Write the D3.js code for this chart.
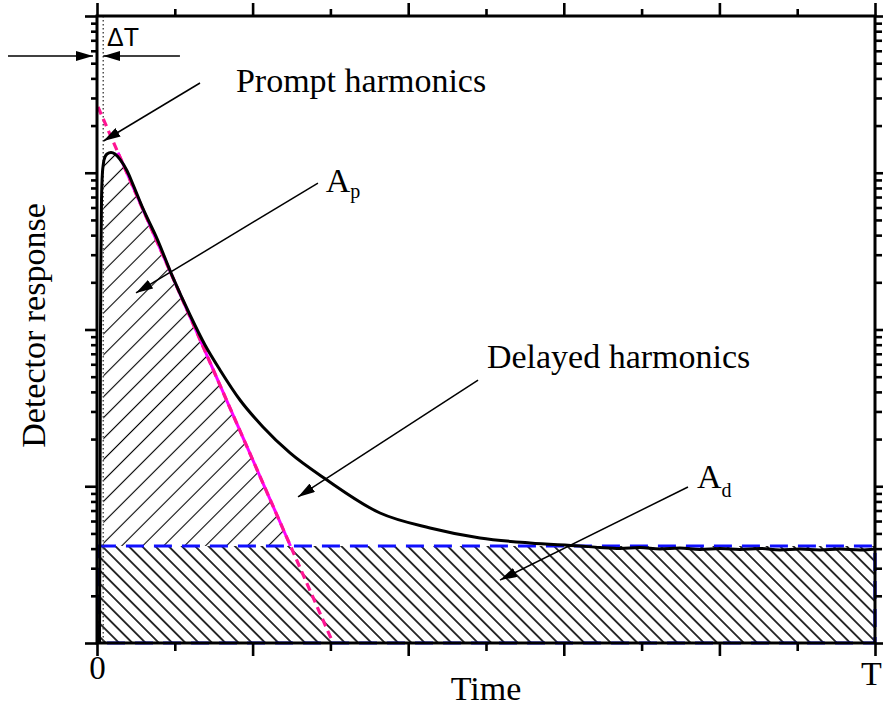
<!DOCTYPE html>
<html>
<head>
<meta charset="utf-8">
<script src="https://cdn.jsdelivr.net/npm/d3@7"></script>
<style>
  body { margin: 0; background: #fff; }
  svg { display: block; }
  text { font-family: "Liberation Serif", "Times New Roman", serif; fill: #000; }
</style>
</head>
<body>
<svg id="chart"></svg>
<script>
// Detector response (time in units of T/5, response on log scale)
var curveT = [0.016, 0.0193, 0.0225, 0.0257, 0.0289, 0.0353, 0.04, 0.045, 0.0643, 0.09, 0.1157, 0.1478,
  0.1928, 0.2314, 0.2956, 0.3856, 0.4884, 0.5977, 0.6941, 0.7905, 0.919, 1.0668, 1.2404, 1.4781,
  1.8188, 2.1401, 2.4614, 2.7828, 3.1041, 3.232, 3.361, 3.489, 3.618, 3.746, 3.875, 4.004, 4.132,
  4.261, 4.389, 4.518, 4.646, 4.775, 4.904, 5.0];
var curveV = [1, 8.17, 99.3, 321.6, 670, 1011, 1120, 1206, 1317, 1346, 1317, 1216,
  1030, 841, 590, 380, 214, 123.7, 79.6, 55.2, 35.5, 23.9, 16.3, 10.96,
  6.75, 5.42, 4.68, 4.345, 4.157, 4.068, 4.012, 4.068, 3.983, 4.04, 3.955, 4.012, 3.955,
  4.012, 3.926, 3.983, 3.926, 3.983, 3.926, 3.983];

// prompt component (straight line on the log axis)
var promptT = [0.0064, 1.517];
var promptV = [2627, 1];
var promptSolidT = [0.135, 1.2436];
var promptSolidV = [1345, 4.157];

var delayedLevel = 4.157;
var deltaT = 0.04;
var rectStartT = 0.006;

var xMajor = [0, 1, 2, 3, 4, 5];
var xMinor = [0.5, 1.5, 2.5, 3.5, 4.5];
var xLabels = ["0", "", "", "", "", "T"];
var yMajor = [1, 10, 100, 1000, 10000];

// annotation arrows: [fromT, fromV, toT, toV]
var arrowList = [
  [0.662, 3738, 0.0418, 1594],
  [1.420, 860, 0.2506, 171],
  [2.449, 47.6, 1.292, 8.54],
  [3.798, 9.89, 2.590, 2.52],
  [-0.572, 5557, -0.0257, 5557],
  [0.533, 5557, 0.0405, 5557]
];
var labelText = ["Prompt harmonics", "Delayed harmonics"];
var labelT = [0.893, 2.506];
var labelV = [3275, 57.2];

var margin = { top: 16, right: 8, bottom: 66, left: 97 },
  W = 883, H = 709,
  width = W - margin.left - margin.right,
  height = H - margin.top - margin.bottom;

var svg = d3.select("#chart").attr("width", W).attr("height", H);
var defs = svg.append("defs");

var g = svg.append("g")
  .attr("transform", "translate(" + margin.left + "," + margin.top + ")");

var x = d3.scaleLinear().domain([0, 5]).range([0, width]);
var y = d3.scaleLog().domain([1, 10000]).range([height, 0]);

// hatch patterns
var hp = defs.append("pattern").attr("id", "hatchP")
  .attr("patternUnits", "userSpaceOnUse").attr("width", 14.8).attr("height", 10)
  .attr("patternTransform", "rotate(45)");
hp.append("line").attr("x1", 7.4).attr("x2", 7.4).attr("y1", 0).attr("y2", 10)
  .attr("stroke", "#000").attr("stroke-width", 1.1);

var hd = defs.append("pattern").attr("id", "hatchD")
  .attr("patternUnits", "userSpaceOnUse").attr("width", 9.4).attr("height", 10)
  .attr("patternTransform", "rotate(-45)");
hd.append("line").attr("x1", 4.7).attr("x2", 4.7).attr("y1", 0).attr("y2", 10)
  .attr("stroke", "#000").attr("stroke-width", 1.6);

defs.append("marker").attr("id", "arrowHead")
  .attr("markerUnits", "userSpaceOnUse")
  .attr("markerWidth", 18).attr("markerHeight", 10)
  .attr("refX", 17).attr("refY", 5).attr("orient", "auto")
  .append("path").attr("d", "M0,0 L17,5 L0,10 Z").attr("fill", "#000");

var curve = curveT.map(function(t, i) { return [t, curveV[i]]; });

var line = d3.line()
  .x(function(d) { return x(d[0]); })
  .y(function(d) { return y(d[1]); });

// clip: left of the prompt line, above the delayed level
var clipPts = [[promptT[0], promptV[0]], [promptSolidT[1], delayedLevel],
  [deltaT, delayedLevel], [deltaT, promptV[0]]];
defs.append("clipPath").attr("id", "promptClip")
  .append("path").attr("d", line(clipPts) + "Z");

// A_d region
g.append("rect")
  .attr("x", x(rectStartT)).attr("y", y(delayedLevel))
  .attr("width", x(5) - x(rectStartT))
  .attr("height", y(1) - y(delayedLevel))
  .attr("fill", "url(#hatchD)");

// A_p region
var area = d3.area()
  .x(function(d) { return x(d[0]); })
  .y0(y(delayedLevel))
  .y1(function(d) { return y(d[1]); })
  .curve(d3.curveMonotoneX);
g.append("path")
  .attr("d", area(curve.filter(function(d) { return d[0] >= deltaT; })))
  .attr("fill", "url(#hatchP)")
  .attr("clip-path", "url(#promptClip)");

// blue dashed outline of A_d
g.append("rect")
  .attr("x", x(rectStartT)).attr("y", y(delayedLevel))
  .attr("width", x(5) - x(rectStartT))
  .attr("height", y(1) - y(delayedLevel))
  .attr("fill", "none")
  .attr("stroke", "#1010ff").attr("stroke-width", 3.2)
  .attr("stroke-dasharray", "18,10");

// delta T dotted marker
g.append("line")
  .attr("x1", x(deltaT)).attr("x2", x(deltaT))
  .attr("y1", 0).attr("y2", height)
  .attr("stroke", "#444").attr("stroke-width", 1.4)
  .attr("stroke-dasharray", "1.5,2.5");

// prompt line: solid part plus dashed over the whole extent
g.append("path")
  .attr("d", line(promptSolidT.map(function(t, i) { return [t, promptSolidV[i]]; })))
  .attr("fill", "none").attr("stroke", "#ff00ff").attr("stroke-width", 3);
g.append("path")
  .attr("d", line(promptT.map(function(t, i) { return [t, promptV[i]]; })))
  .attr("fill", "none").attr("stroke", "#ff1493").attr("stroke-width", 3.2)
  .attr("stroke-dasharray", "8,5");

// detector response curve
var smooth = d3.line()
  .x(function(d) { return x(d[0]); })
  .y(function(d) { return y(d[1]); })
  .curve(d3.curveMonotoneX);
g.append("path")
  .attr("d", smooth(curve))
  .attr("fill", "none").attr("stroke", "#000").attr("stroke-width", 3)
  .attr("stroke-linejoin", "round");

// axes
function styleAxis(sel) {
  sel.select(".domain").remove();
  sel.selectAll(".tick line").attr("stroke", "#000").attr("stroke-width", 2.6);
  sel.selectAll(".tick text")
    .style("font-family", "'Liberation Serif', 'Times New Roman', serif")
    .style("font-size", "33px").attr("fill", "#000");
}
var yMinor = y.ticks().filter(function(v) { return yMajor.indexOf(v) < 0; });

var xb = g.append("g").attr("transform", "translate(0," + height + ")")
  .call(d3.axisBottom(x).tickValues(xMajor).tickSize(13).tickPadding(0)
    .tickFormat(function(d, i) { return xLabels[i]; }))
  .call(styleAxis);
// keep the "T" inside the picture
xb.selectAll(".tick text").filter(function(d) { return d === 5; })
  .attr("dx", -4).attr("dy", "0.86em").style("font-size", "34px");
g.append("g").attr("transform", "translate(0," + height + ")")
  .call(d3.axisBottom(x).tickValues(xMinor).tickSize(8).tickFormat(""))
  .call(styleAxis);
g.append("g")
  .call(d3.axisTop(x).tickValues(xMajor).tickSize(13).tickFormat(""))
  .call(styleAxis);
g.append("g")
  .call(d3.axisTop(x).tickValues(xMinor).tickSize(7).tickFormat(""))
  .call(styleAxis);
g.append("g")
  .call(d3.axisLeft(y).tickValues(yMajor).tickSize(12).tickFormat(""))
  .call(styleAxis);
g.append("g")
  .call(d3.axisLeft(y).tickValues(yMinor).tickSize(6).tickFormat(""))
  .call(styleAxis);
g.append("g").attr("transform", "translate(" + width + ",0)")
  .call(d3.axisRight(y).tickValues(yMajor).tickSize(12).tickFormat(""))
  .call(styleAxis);
g.append("g").attr("transform", "translate(" + width + ",0)")
  .call(d3.axisRight(y).tickValues(yMinor).tickSize(7).tickFormat(""))
  .call(styleAxis);

g.append("rect")
  .attr("width", width).attr("height", height)
  .attr("fill", "none").attr("stroke", "#000").attr("stroke-width", 3);

// arrows
g.selectAll(".arrow").data(arrowList).enter().append("line")
  .attr("class", "arrow")
  .attr("x1", function(d) { return x(d[0]); })
  .attr("y1", function(d) { return y(d[1]); })
  .attr("x2", function(d) { return x(d[2]); })
  .attr("y2", function(d) { return y(d[3]); })
  .attr("stroke", "#000").attr("stroke-width", 1.5)
  .attr("marker-end", "url(#arrowHead)");

// labels
g.selectAll(".lbl").data(labelText).enter().append("text")
  .attr("class", "lbl")
  .attr("x", function(d, i) { return x(labelT[i]); })
  .attr("y", function(d, i) { return y(labelV[i]); })
  .style("font-size", "34px")
  .text(function(d) { return d; });

var ap = g.append("text").attr("x", x(1.47)).attr("y", y(754)).style("font-size", "34px");
ap.append("tspan").text("A");
ap.append("tspan").attr("dy", 6).style("font-size", "20px").text("p");

var ad = g.append("text").attr("x", x(3.856)).attr("y", y(9.75)).style("font-size", "34px");
ad.append("tspan").text("A");
ad.append("tspan").attr("dy", 9).style("font-size", "20px").text("d");

g.append("text").attr("x", x(0.064)).attr("y", y(6436))
  .style("font-family", "'Liberation Sans', Arial, sans-serif")
  .style("font-size", "25px").text("\u0394T");

g.append("text")
  .attr("x", width / 2).attr("y", height + 57)
  .attr("text-anchor", "middle").style("font-size", "34px")
  .text("Time");

g.append("text")
  .attr("transform", "rotate(-90)")
  .attr("x", -height / 2 + 4).attr("y", -52)
  .attr("text-anchor", "middle").style("font-size", "34px")
  .text("Detector response");
</script>
</body>
</html>
